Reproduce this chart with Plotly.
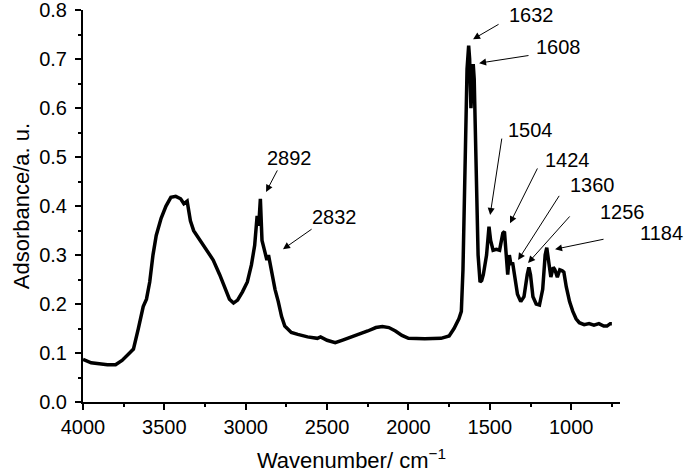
import plotly.graph_objects as go

# FTIR spectrum
wavenumber = [4000, 3950, 3900, 3850, 3800, 3760, 3720, 3690, 3660, 3630, 3610, 3590, 3570, 3550,
              3520, 3490, 3460, 3430, 3400, 3380, 3360, 3340, 3320, 3280, 3240, 3200, 3160, 3130,
              3100, 3075, 3050, 3020, 2990, 2965, 2945, 2930, 2920, 2910, 2900, 2885, 2870, 2860,
              2855, 2845, 2820, 2800, 2780, 2760, 2720, 2680, 2620, 2560, 2540, 2500, 2450, 2400,
              2350, 2300, 2250, 2200, 2160, 2120, 2080, 2040, 2000, 1900, 1800, 1750, 1720, 1690,
              1675, 1665, 1650, 1640, 1630, 1624, 1616, 1608, 1602, 1596, 1585, 1572, 1560, 1550,
              1540, 1520, 1505, 1495, 1480, 1460, 1440, 1420, 1410, 1400, 1390, 1380, 1370, 1360,
              1345, 1330, 1310, 1290, 1270, 1260, 1250, 1235, 1215, 1195, 1175, 1160, 1150, 1140,
              1125, 1110, 1100, 1085, 1070, 1055, 1045, 1030, 1010, 990, 970, 950, 920, 890, 860,
              830, 800, 780, 760, 750]
absorbance = [0.087, 0.080, 0.078, 0.076, 0.076, 0.085, 0.098, 0.108, 0.150, 0.195, 0.210, 0.245, 0.300, 0.340,
              0.375, 0.400, 0.418, 0.420, 0.415, 0.405, 0.410, 0.370, 0.350, 0.330, 0.310, 0.290, 0.260, 0.235,
              0.210, 0.202, 0.208, 0.225, 0.245, 0.280, 0.320, 0.380, 0.360, 0.415, 0.330, 0.310, 0.290, 0.300,
              0.290, 0.270, 0.230, 0.205, 0.175, 0.155, 0.142, 0.138, 0.133, 0.130, 0.133, 0.126, 0.121, 0.127,
              0.133, 0.138, 0.145, 0.152, 0.154, 0.152, 0.145, 0.136, 0.130, 0.129, 0.130, 0.135, 0.150, 0.170,
              0.185, 0.270, 0.500, 0.680, 0.728, 0.700, 0.600, 0.670, 0.690, 0.660, 0.450, 0.300, 0.245, 0.248,
              0.260, 0.300, 0.358, 0.330, 0.310, 0.312, 0.310, 0.345, 0.348, 0.300, 0.260, 0.300, 0.280, 0.285,
              0.250, 0.220, 0.205, 0.215, 0.260, 0.275, 0.260, 0.215, 0.200, 0.198, 0.230, 0.300, 0.315, 0.290,
              0.255, 0.275, 0.270, 0.255, 0.270, 0.268, 0.265, 0.235, 0.205, 0.185, 0.170, 0.162, 0.158, 0.160, 0.157,
              0.160, 0.155, 0.155, 0.160, 0.160]

# peak labels: text, arrow head (data), arrow tail (data), label position (paper)
peak_labels = ["2892", "2832", "1632", "1608", "1504", "1424", "1360", "1256", "1184"]
head_xy = [(2875, 0.429), (2771, 0.312), (1603, 0.741), (1566, 0.692), (1498, 0.382),
           (1376, 0.365), (1326, 0.290), (1265, 0.284), (1099, 0.312)]
tail_xy = [(2801, 0.476), (2586, 0.355), (1437, 0.773), (1253, 0.708), (1425, 0.541),
           (1203, 0.480), (1068, 0.424), (1001, 0.382), (792, 0.333)]
label_xy = [(0.385, 0.622), (0.469, 0.472), (0.836, 0.987), (0.885, 0.906), (0.834, 0.694),
            (0.903, 0.617), (0.948, 0.554), (1.004, 0.485), (1.078, 0.431)]

FONT = "Liberation Sans, Arial, sans-serif"

fig = go.Figure()
fig.add_trace(go.Scatter(x=wavenumber, y=absorbance, mode="lines",
                         line=dict(color="black", width=3.5), showlegend=False))

anns = []
for lab, h, t, p in zip(peak_labels, head_xy, tail_xy, label_xy):
    # arrow
    anns.append(dict(x=h[0], y=h[1], ax=t[0], ay=t[1], xref="x", yref="y", axref="x", ayref="y",
                     text="", showarrow=True, arrowhead=2, arrowsize=1.4, arrowwidth=1,
                     arrowcolor="black"))
    # label
    anns.append(dict(x=p[0], y=p[1], xref="paper", yref="paper", text=lab, showarrow=False,
                     xanchor="center", yanchor="middle",
                     font=dict(size=20, color="black", family=FONT)))

fig.update_layout(
    width=685, height=473,
    margin=dict(l=83, r=65, t=10, b=71, autoexpand=False),
    plot_bgcolor="white", paper_bgcolor="white",
    font=dict(family=FONT, color="black", size=20),
    annotations=anns,
)
fig.update_xaxes(range=[4000, 700], dtick=500, tick0=0, showgrid=False, zeroline=False,
                 showline=True, linecolor="black", linewidth=2, ticks="outside", ticklen=6,
                 tickwidth=2, tickcolor="black", automargin=False, ticklabeloverflow="allow",
                 minor=dict(dtick=250, tick0=0, ticks="outside", ticklen=3, tickwidth=2, tickcolor="black"),
                 title=dict(text="Wavenumber/ cm<sup>−1</sup>", font=dict(size=22), standoff=16))
fig.update_yaxes(range=[0, 0.8005], dtick=0.1, tickformat=".1f", showgrid=False, zeroline=False,
                 showline=True, linecolor="black", linewidth=2, ticks="outside", ticklen=6,
                 tickwidth=2, tickcolor="black", automargin=False, ticklabelstandoff=4,
                 ticklabeloverflow="allow",
                 minor=dict(dtick=0.05, ticks="outside", ticklen=3, tickwidth=2, tickcolor="black"),
                 title=dict(text="Adsorbance/a. u.", font=dict(size=22), standoff=3))

# drop the default 8px body margin so the figure sits at the page corner
fig.write_html("out.html", config={"displayModeBar": False},
               post_script="document.body.style.margin='0';")
